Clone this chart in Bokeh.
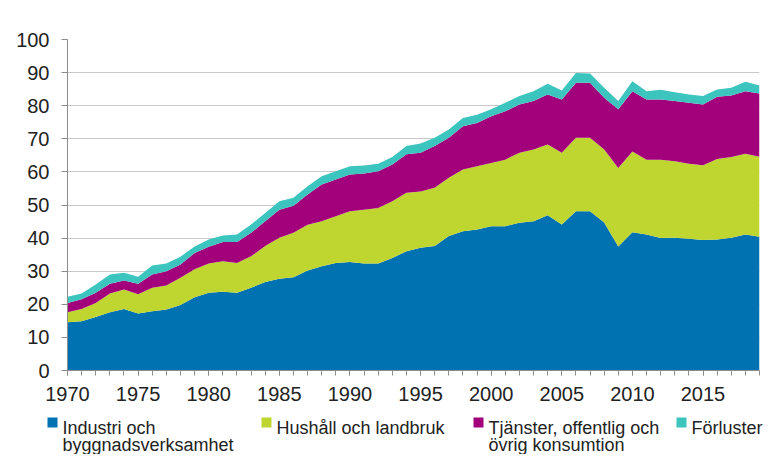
from bokeh.plotting import figure
from bokeh.models import (ColumnDataSource, Label, FixedTicker,
                          SingleIntervalTicker, Range1d)
from bokeh.layouts import column
from bokeh.core.properties import value
from bokeh.embed import file_html
from bokeh.resources import INLINE

years = list(range(1970, 2020))

industri = [14.6, 14.9, 16.2, 17.6, 18.6, 17.2, 17.9, 18.4, 19.8, 22.1,
            23.5, 23.8, 23.5, 25.0, 26.7, 27.7, 28.2, 30.2, 31.5, 32.5,
            32.8, 32.3, 32.3, 34.0, 36.0, 37.1, 37.6, 40.6, 42.1, 42.6,
            43.6, 43.6, 44.6, 45.1, 46.9, 44.1, 48.1, 48.1, 44.7, 37.5,
            41.8, 41.1, 40.0, 40.1, 39.8, 39.4, 39.6, 40.1, 41.1, 40.4]
hushall = [3.0, 3.7, 4.2, 5.7, 5.9, 5.8, 7.1, 7.3, 8.2, 8.5,
           8.8, 9.2, 9.0, 9.5, 10.9, 12.4, 13.4, 13.8, 13.6, 14.1,
           15.3, 16.3, 16.8, 17.1, 17.7, 17.0, 17.6, 17.6, 18.6, 19.1,
           19.1, 20.1, 21.2, 21.7, 21.4, 21.7, 22.2, 22.2, 22.1, 23.7,
           24.4, 22.6, 23.7, 23.1, 22.7, 22.6, 24.3, 24.4, 24.4, 24.2]
tjanster = [2.8, 2.9, 3.1, 2.9, 2.7, 3.2, 4.0, 4.3, 4.0, 4.9,
            5.1, 5.8, 6.3, 7.1, 7.5, 8.5, 8.2, 9.2, 11.1, 11.1,
            11.1, 10.9, 11.1, 11.1, 11.6, 11.7, 12.6, 12.1, 13.1, 13.1,
            14.1, 14.6, 14.6, 14.6, 15.1, 16.1, 16.6, 16.6, 15.6, 17.7,
            18.2, 18.2, 18.2, 18.2, 18.4, 18.4, 18.8, 18.6, 18.9, 19.1]
forluster = [1.9, 1.8, 2.5, 2.8, 2.3, 2.1, 2.7, 2.3, 2.4, 2.0,
             2.2, 2.0, 2.3, 2.5, 2.5, 2.5, 2.4, 2.5, 2.5, 2.5,
             2.5, 2.4, 2.3, 2.3, 2.5, 2.8, 2.5, 2.5, 2.5, 2.5,
             2.1, 2.6, 2.5, 3.0, 3.2, 2.7, 3.0, 2.8, 3.0, 2.5,
             3.0, 2.5, 2.9, 2.7, 2.5, 2.5, 2.2, 2.3, 2.8, 2.4]

series_names = ["industri", "hushall", "tjanster", "forluster"]
legend_line1 = ["Industri och", "Hushåll och landbruk", "Tjänster, offentlig och", "Förluster"]
legend_line2 = ["byggnadsverksamhet", "", "övrig konsumtion", ""]
colors = ["#0072B1", "#BFD630", "#A3007C", "#3CC4BE"]
y_ticks = list(range(0, 101, 10))

source = ColumnDataSource(dict(year=years, industri=industri, hushall=hushall,
                               tjanster=tjanster, forluster=forluster))

FONT = "Liberation Sans"
TXT = "#222222"
AX = "#8c8c8c"

# ---------------- main chart ----------------
p = figure(width=769, height=412, output_backend="svg", toolbar_location=None,
           x_range=Range1d(1970, 2019), y_range=Range1d(0, 100),
           min_border_left=67, min_border_right=10, min_border_top=39,
           min_border_bottom=42, frame_align=False)
p.outline_line_color = None
p.background_fill_color = "white"
p.border_fill_color = "white"

rends = p.varea_stack(stackers=series_names, x="year", color=colors, source=source)

p.xgrid.visible = False
p.ygrid.grid_line_color = "#c8c8c8"
p.ygrid.grid_line_width = 1

p.yaxis.ticker = FixedTicker(ticks=y_ticks)
p.yaxis.minor_tick_line_color = None
p.yaxis.major_tick_in = 0
p.yaxis.major_tick_out = 6
p.yaxis.major_label_standoff = 12

p.xaxis.ticker = SingleIntervalTicker(interval=5, num_minor_ticks=5)
p.xaxis.major_tick_in = 0
p.xaxis.major_tick_out = 5
p.xaxis.minor_tick_in = 0
p.xaxis.minor_tick_out = 5
p.xaxis.major_label_standoff = 11

for ax in (p.xaxis[0], p.yaxis[0]):
    ax.axis_line_color = AX
    ax.major_tick_line_color = AX
    ax.minor_tick_line_color = AX if ax is p.xaxis[0] else None
    ax.major_label_text_font = FONT
    ax.major_label_text_font_size = "20px"
    ax.major_label_text_color = TXT

p.add_layout(Label(x=1970.25, y=104.5, text="TW", text_baseline="middle",
                   text_font=FONT, text_font_size="20px", text_color=TXT))

# ---------------- legend strip ----------------
LEG_H = 42
leg_x = [47, 261, 473, 676]          # left edge of each legend swatch (px)
leg = figure(width=769, height=LEG_H, output_backend="svg", toolbar_location=None,
             x_range=Range1d(0, 769), y_range=Range1d(LEG_H, 0),
             x_axis_location=None, y_axis_location=None, min_border=0,
             frame_align=False)
leg.outline_line_color = None
leg.grid.visible = False
leg.border_fill_color = "white"
leg.background_fill_color = "white"

leg_src = ColumnDataSource(dict(
    sx=[x + 5 for x in leg_x], sy=[10] * 4,
    tx=[x + 15 for x in leg_x], ty1=[15] * 4, ty2=[32] * 4,
    color=colors, l1=legend_line1, l2=legend_line2))
leg.scatter(x="sx", y="sy", marker="square", size=10, color="color",
            line_color=None, source=leg_src)
leg.text(x="tx", y="ty1", text="l1", source=leg_src, text_font=value(FONT),
         text_font_size=value("18px"), text_color=TXT, text_baseline="alphabetic")
leg.text(x="tx", y="ty2", text="l2", source=leg_src, text_font=value(FONT),
         text_font_size=value("18px"), text_color=TXT, text_baseline="alphabetic")

layout = column(p, leg, spacing=0)
open("out.html", "w").write(file_html(layout, INLINE))
